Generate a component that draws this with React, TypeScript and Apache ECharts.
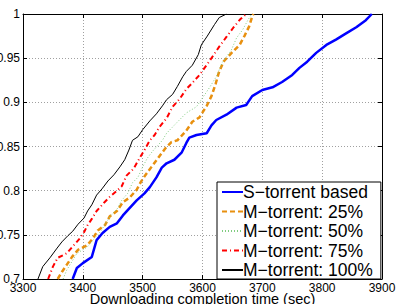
import React, { useEffect, useRef } from "react";
import * as echarts from "echarts";

const xTicks = [3300, 3400, 3500, 3600, 3700, 3800, 3900];
const yTicks = [0.7, 0.75, 0.8, 0.85, 0.9, 0.95, 1];

const seriesNames = [
  "S−torrent based",
  "M−torrent: 25%",
  "M−torrent: 50%",
  "M−torrent: 75%",
  "M−torrent: 100%",
];

const sTorrent: number[][] = [
  [3383, 0.7], [3390, 0.7125], [3400, 0.718], [3415, 0.725], [3423, 0.744], [3433, 0.752],
  [3445, 0.759], [3457, 0.763], [3467, 0.772], [3475, 0.778], [3490, 0.789], [3503, 0.797],
  [3512, 0.804], [3523, 0.815], [3532, 0.826], [3540, 0.831], [3553, 0.835], [3565, 0.843],
  [3573, 0.854], [3578, 0.86], [3590, 0.863], [3607, 0.865], [3615, 0.874], [3623, 0.88],
  [3640, 0.886], [3657, 0.894], [3673, 0.897], [3683, 0.907], [3700, 0.914], [3717, 0.917],
  [3733, 0.923], [3750, 0.931], [3762, 0.939], [3775, 0.946], [3790, 0.956], [3807, 0.965],
  [3823, 0.971], [3840, 0.978], [3857, 0.985], [3873, 0.993], [3883, 1.0],
];

const m25: number[][] = [
  [3358, 0.7], [3365, 0.708], [3373, 0.716], [3382, 0.725], [3392, 0.733], [3407, 0.738],
  [3417, 0.746], [3425, 0.755], [3437, 0.761], [3445, 0.771], [3457, 0.777], [3467, 0.787],
  [3478, 0.792], [3490, 0.801], [3497, 0.81], [3505, 0.818], [3517, 0.829], [3528, 0.839],
  [3538, 0.848], [3548, 0.855], [3558, 0.857], [3573, 0.868], [3583, 0.878], [3595, 0.883],
  [3607, 0.896], [3615, 0.907], [3622, 0.921], [3627, 0.933], [3635, 0.946], [3650, 0.957],
  [3662, 0.965], [3670, 0.975], [3678, 0.986], [3683, 0.997], [3685, 1.0],
];

const m50: number[][] = [
  [3367, 0.7], [3373, 0.71], [3382, 0.72], [3390, 0.729], [3407, 0.736], [3418, 0.745],
  [3430, 0.754], [3438, 0.763], [3447, 0.772], [3458, 0.78], [3465, 0.789], [3475, 0.797],
  [3483, 0.809], [3492, 0.815], [3500, 0.827], [3508, 0.837], [3517, 0.845], [3525, 0.851],
  [3533, 0.857], [3540, 0.865], [3557, 0.877], [3573, 0.888], [3590, 0.895], [3600, 0.905],
  [3612, 0.917], [3623, 0.929], [3633, 0.945], [3648, 0.959], [3657, 0.973], [3667, 0.982],
  [3675, 0.992], [3682, 1.0],
];

const m75: number[][] = [
  [3342, 0.7], [3350, 0.714], [3358, 0.724], [3373, 0.729], [3382, 0.736], [3395, 0.746],
  [3402, 0.753], [3408, 0.761], [3415, 0.768], [3423, 0.777], [3435, 0.786], [3445, 0.793],
  [3457, 0.8], [3465, 0.805], [3473, 0.817], [3485, 0.825], [3495, 0.837], [3503, 0.846],
  [3512, 0.857], [3520, 0.863], [3528, 0.872], [3540, 0.882], [3550, 0.895], [3562, 0.904],
  [3573, 0.915], [3583, 0.922], [3595, 0.931], [3612, 0.947], [3628, 0.963], [3640, 0.974],
  [3652, 0.985], [3663, 0.994], [3673, 1.0],
];

const m100: number[][] = [
  [3325, 0.7], [3333, 0.714], [3345, 0.724], [3357, 0.735], [3365, 0.742], [3375, 0.749],
  [3383, 0.754], [3392, 0.762], [3402, 0.769], [3408, 0.777], [3415, 0.784], [3423, 0.795],
  [3432, 0.802], [3442, 0.811], [3452, 0.818], [3462, 0.827], [3470, 0.835], [3477, 0.846],
  [3483, 0.857], [3492, 0.861], [3500, 0.869], [3512, 0.879], [3523, 0.887], [3533, 0.896],
  [3540, 0.903], [3550, 0.909], [3558, 0.918], [3567, 0.929], [3573, 0.935], [3583, 0.942],
  [3593, 0.954], [3598, 0.965], [3608, 0.975], [3620, 0.988], [3628, 0.996], [3640, 1.0],
];

const FONT = "'Liberation Sans', Arial, Helvetica, sans-serif";

export default function App() {
  const ref = useRef<HTMLDivElement>(null);
  useEffect(() => {
    if (!ref.current) return;
    const chart = echarts.init(ref.current, null, { renderer: "svg" });
    const xMin = xTicks[0];
    const xMax = xTicks[xTicks.length - 1];
    const yMin = yTicks[0];
    const yMax = yTicks[yTicks.length - 1];
    const splitLine = {
      show: true,
      lineStyle: { color: "#a0a0a0", width: 1, type: [1, 2] as any },
    };
    const fmtY = (v: number) => String(Math.round(v * 100) / 100);
    const fmtX = (v: number) => String(Math.round(v));
    chart.setOption({
      animation: false,
      backgroundColor: "#ffffff",
      grid: {
        left: 23,
        right: 14,
        top: 14,
        bottom: 25,
        containLabel: false,
        outerBoundsMode: "none",
      },
      xAxis: [
        {
          type: "value",
          min: xMin,
          max: xMax,
          interval: 100,
          position: "bottom",
          name: "Downloading completion time (sec)",
          nameLocation: "middle",
          nameGap: 13,
          nameMoveOverlap: false,
          nameTextStyle: { fontFamily: FONT, fontSize: 14.5, color: "#000", verticalAlign: "top", lineHeight: 13 },
          axisLine: { show: true, lineStyle: { color: "#000", width: 1 } },
          axisTick: { show: true, inside: true, length: 4, lineStyle: { color: "#000" } },
          axisLabel: { fontFamily: FONT, fontSize: 12, lineHeight: 11, color: "#000", margin: 3, formatter: fmtX, hideOverlap: false },
          splitLine,
        },
        {
          type: "value",
          min: xMin,
          max: xMax,
          interval: 100,
          position: "top",
          axisLine: { show: true, lineStyle: { color: "#000", width: 1 } },
          axisTick: { show: true, inside: true, length: 4, lineStyle: { color: "#000" } },
          axisLabel: { show: false },
          splitLine: { show: false },
        },
      ],
      yAxis: [
        {
          type: "value",
          min: yMin,
          max: yMax,
          interval: 0.05,
          position: "left",
          axisLine: { show: true, lineStyle: { color: "#000", width: 1 } },
          axisTick: { show: true, inside: true, length: 4, lineStyle: { color: "#000" } },
          axisLabel: { fontFamily: FONT, fontSize: 12, color: "#000", margin: 3, formatter: fmtY },
          splitLine,
        },
        {
          type: "value",
          min: yMin,
          max: yMax,
          interval: 0.05,
          position: "right",
          axisLine: { show: true, lineStyle: { color: "#000", width: 1 } },
          axisTick: { show: true, inside: true, length: 4, lineStyle: { color: "#000" } },
          axisLabel: { show: false },
          splitLine: { show: false },
        },
      ],
      legend: {
        orient: "vertical",
        left: 217,
        top: 182,
        padding: [1, 8, 0, 4],
        itemWidth: 21,
        itemHeight: 10,
        itemGap: 1.5,
        backgroundColor: "#ffffff",
        borderColor: "#000",
        borderWidth: 1,
        borderRadius: 0,
        selectedMode: false,
        itemStyle: { opacity: 0 },
        textStyle: { fontFamily: FONT, fontSize: 17.5, color: "#000", lineHeight: 17, padding: [0, 0, 0, -5] },
        data: seriesNames,
      },
      series: [
        {
          name: seriesNames[0],
          type: "line",
          data: sTorrent,
          symbol: "none",
          lineStyle: { color: "#0000ff", width: 2.5 },
          itemStyle: { color: "#0000ff" },
          z: 2,
        },
        {
          name: seriesNames[1],
          type: "line",
          data: m25,
          symbol: "none",
          lineStyle: { color: "#e8900f", width: 2.5, type: [5, 3] },
          itemStyle: { color: "#e8900f" },
          z: 3,
        },
        {
          name: seriesNames[2],
          type: "line",
          data: m50,
          symbol: "none",
          lineStyle: { color: "#80cc80", width: 1, type: [1, 2] },
          itemStyle: { color: "#80cc80" },
          z: 4,
        },
        {
          name: seriesNames[3],
          type: "line",
          data: m75,
          symbol: "none",
          lineStyle: { color: "#ff0000", width: 2, type: [5, 3, 1, 3] },
          itemStyle: { color: "#ff0000" },
          z: 5,
        },
        {
          name: seriesNames[4],
          type: "line",
          data: m100,
          symbol: "none",
          lineStyle: { color: "#000000", width: 1 },
          itemStyle: { color: "#000000" },
          z: 6,
        },
      ],
    });
    return () => chart.dispose();
  }, []);
  return (
    <div
      ref={ref}
      style={{ position: "absolute", left: 0, top: 0, width: 396, height: 304 }}
    />
  );
}
